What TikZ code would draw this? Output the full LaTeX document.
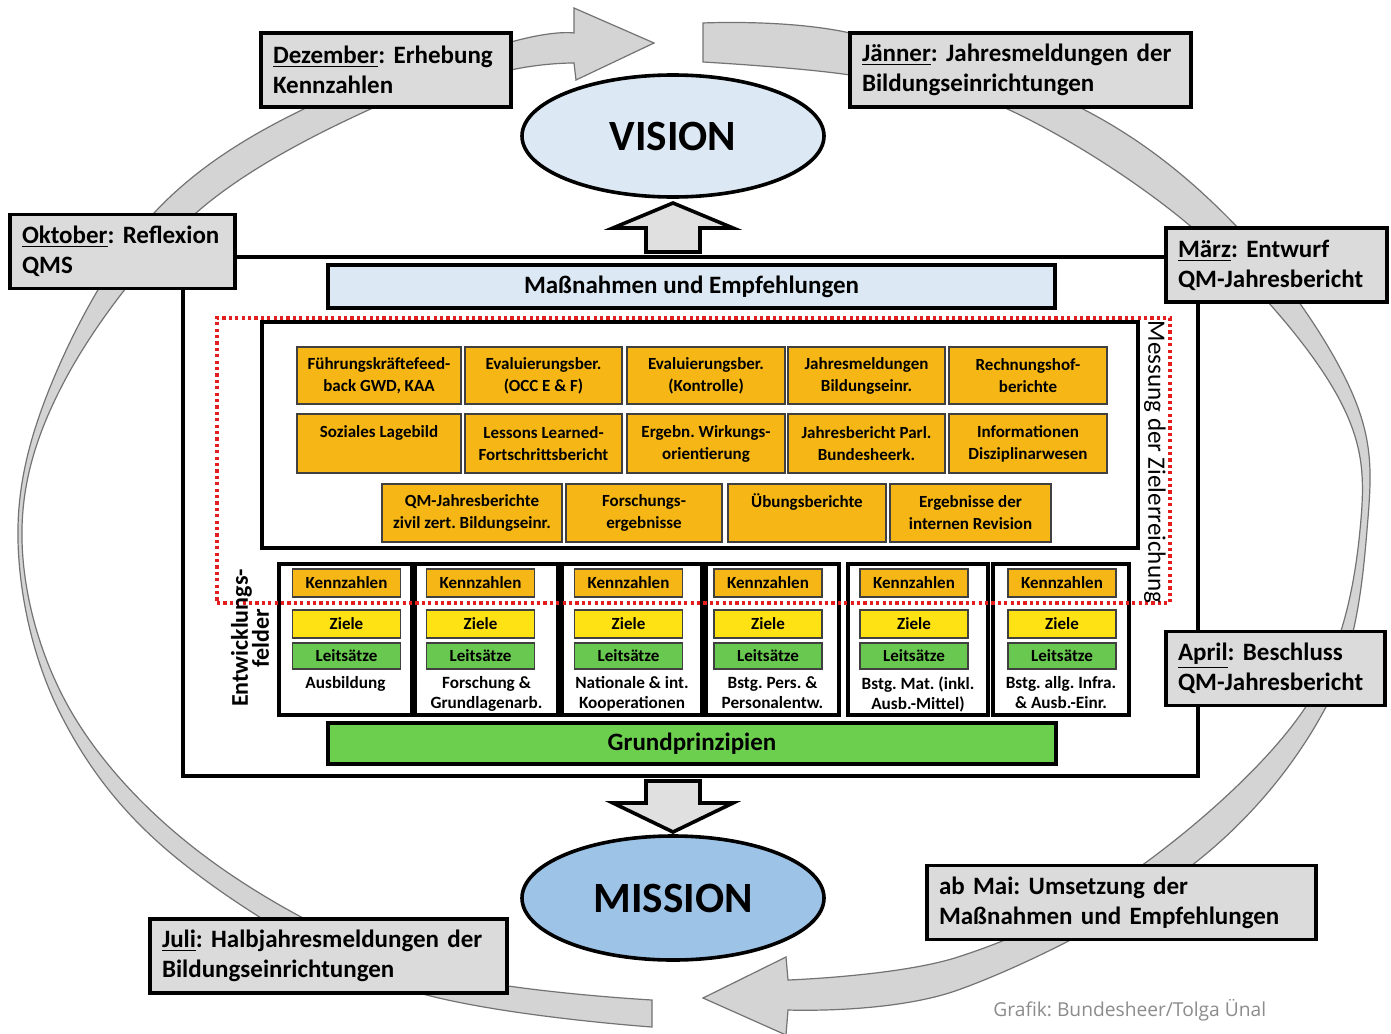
\documentclass[tikz,border=0pt]{standalone}
\usepackage{fontspec}
\setmainfont{Carlito}
\newfontfamily\creditfont{Open Sans}
\usetikzlibrary{shapes.geometric}
\definecolor{ob}{RGB}{245,182,22}
\definecolor{zy}{RGB}{255,226,20}
\definecolor{lg}{RGB}{104,200,80}
\definecolor{gg}{RGB}{108,208,78}
\definecolor{lb}{RGB}{220,233,245}
\definecolor{mb}{RGB}{157,195,230}
\definecolor{rd}{RGB}{228,30,30}
\frenchspacing
\begin{document}
\begin{tikzpicture}[x=0.5pt,y=-0.5pt,
  band/.style={fill=black!17, draw=black!55, line width=0.6pt},
  mbox/.style={draw, line width=1.8pt, fill=black!14, inner sep=0pt, minimum height=37pt,
    font=\fontsize{12.5}{15}\selectfont\bfseries, align=left},
  thickbox/.style={draw, line width=1.8pt, inner sep=0pt},
  obox/.style={draw=black!75, line width=0.7pt, fill=ob, inner sep=0pt, align=center,
    font=\fontsize{8.5}{11}\selectfont\bfseries},
  sbox/.style={draw=black!75, line width=0.7pt, inner sep=0pt, minimum width=54pt,
    font=\fontsize{8.5}{10}\selectfont\bfseries},
  collab/.style={inner sep=0pt, align=center, font=\fontsize{8.6}{10}\selectfont\bfseries},
  ell/.style={ellipse, draw, line width=1.8pt, inner sep=0pt, minimum width=151pt,
    font=\fontsize{21.6}{24}\selectfont\bfseries},
  barrow/.style={draw, line width=1.8pt, fill=black!12, line join=miter},
  reddot/.style={draw=rd, line width=1.6pt, dash pattern=on 1.6pt off 1.6pt}
]
\useasboundingbox (0,0) rectangle (1391,1033);
\fill[white] (0,0) rectangle (1391,1033);

% ring bands
\draw[band] plot[smooth, tension=0.6] coordinates {(652,1027) (400,987) (179,860) (60,713) (18,540) (53,380) (154,213) (308,107) (511,42) (574,33)}
  -- (574,8) -- (654,43) -- (576,80) -- (574,63)
  -- plot[smooth, tension=0.6] coordinates {(574,63) (511,70) (375,107) (196,213) (65,380) (22,540) (72,713) (210,860) (420,968) (652,1000)} -- cycle;
\draw[band] plot[smooth, tension=0.6] coordinates {(703,23) (850,33) (1079,107) (1240,230) (1353,395) (1367,530) (1327,705) (1191,866) (958,990) (788,1010)}
  -- (786,1035) -- (703,998) -- (786,957) -- (788,980)
  -- plot[smooth, tension=0.6] coordinates {(788,980) (958,957) (1141,866) (1307,705) (1360,530) (1337,395) (1195,230) (1003,107) (850,75) (703,62)} -- cycle;

% outer frame
\node[thickbox, minimum width=507.5pt, minimum height=259.5pt] (frame) at (690.5,516.5) {};

% vision / mission
\node[ell, fill=lb, minimum height=61pt] (vision) at (673,136) {VISION};
\node[ell, fill=mb, minimum height=62pt] (mission) at (673,898) {MISSION};

% block arrows
\draw[barrow] (646,252) -- (646,228) -- (613,228) -- (673,203) -- (733,228) -- (700,228) -- (700,252) -- cycle;
\draw[barrow] (646,781) -- (700,781) -- (700,803) -- (733,803) -- (673,832) -- (613,803) -- (646,803) -- cycle;

% month boxes
\node[mbox, minimum width=125pt, text width=113pt] (dez) at (386,70)
  {\mbox{\underline{Dezember}: Erhebung}\\\mbox{Kennzahlen}};
\node[mbox, minimum width=170.5pt, text width=158.5pt] (jan) at (1020.5,70)
  {\mbox{\underline{Jänner}: Jahresmeldungen der}\\\mbox{Bildungseinrichtungen}};
\node[mbox, minimum width=112.5pt, text width=100.5pt] (okt) at (122.5,251.5)
  {\mbox{\underline{Oktober}: Reflexion}\\\mbox{QMS}};
\node[mbox, minimum width=110.5pt, text width=98.5pt] (mar) at (1276.5,265)
  {\mbox{\underline{März}: Entwurf}\\\mbox{QM-Jahresbericht}};
\node[mbox, minimum width=109.5pt, text width=97.5pt] (apr) at (1275.5,668.5)
  {\mbox{\underline{April}: Beschluss}\\\mbox{QM-Jahresbericht}};
\node[mbox, minimum width=194.5pt, text width=182.5pt] (mai) at (1121.5,902.5)
  {\mbox{ab Mai: Umsetzung der}\\\mbox{Maßnahmen und Empfehlungen}};
\node[mbox, minimum width=178.5pt, text width=166.5pt] (jul) at (328.5,956)
  {\mbox{\underline{Juli}: Halbjahresmeldungen der}\\\mbox{Bildungseinrichtungen}};

% Massnahmen
\node[thickbox, fill=lb, minimum width=363.5pt, minimum height=21.5pt,
  font=\fontsize{12.5}{15}\selectfont\bfseries] (mass) at (691.5,286.5) {Maßnahmen und Empfehlungen};

% measurement block
\node[thickbox, fill=white, minimum width=438pt, minimum height=113pt] (meas) at (700,435) {};
\foreach \n/\cx/\w/\t in {
  11/379/82/{Führungskräftefeed-\\back GWD, KAA},
  12/543.5/78.5/{Evaluierungsber.\\(OCC E \& F)},
  13/706/79/{Evaluierungsber.\\(Kontrolle)},
  14/866.5/78.5/{Jahresmeldungen\\Bildungseinr.},
  15/1028/79/{Rechnungshof-\\berichte}}
  \node[obox, minimum width=\w pt, minimum height=28.5pt] (ob\n) at (\cx,375.5) {\t};
\foreach \n/\cx/\w/\t in {
  21/379/82/{Soziales Lagebild\\\phantom{g}},
  22/543.5/78.5/{Lessons Learned-\\Fortschrittsbericht},
  23/706/79/{Ergebn. Wirkungs-\\orientierung},
  24/866.5/78.5/{Jahresbericht Parl.\\Bundesheerk.},
  25/1028/79/{Informationen\\Disziplinarwesen}}
  \node[obox, minimum width=\w pt, minimum height=29.5pt] (ob\n) at (\cx,443.5) {\t};
\foreach \n/\cx/\w/\t in {
  31/472/90/{QM-Jahresberichte\\zivil zert. Bildungseinr.},
  32/644/78/{Forschungs-\\ergebnisse},
  33/807/79/{Übungsberichte\\\phantom{g}},
  34/970.5/80.5/{Ergebnisse der\\internen Revision}}
  \node[obox, minimum width=\w pt, minimum height=29pt] (ob\n) at (\cx,513) {\t};

% development fields
\foreach \n/\cc/\w/\ic/\lab in {
  1/345.5/66.5/346.5/{Ausbildung\\\phantom{g}},
  2/486.5/71.5/480.5/{Forschung \&\\Grundlagenarb.},
  3/632/70/628.5/{Nationale \& int.\\Kooperationen},
  4/772.5/66.5/768/{Bstg. Pers. \&\\Personalentw.},
  5/918/70/914/{Bstg. Mat. (inkl.\\Ausb.-Mittel)},
  6/1061/68/1062/{Bstg. allg. Infra.\\\& Ausb.-Einr.}}
{
  \node[thickbox, fill=white, minimum width=\w pt, minimum height=75.5pt] (col\n) at (\cc,639.5) {};
  \node[sbox, fill=ob, minimum height=14pt] (kz\n) at (\ic,583) {Kennzahlen};
  \node[sbox, fill=zy, minimum height=14pt] (zi\n) at (\ic,624) {Ziele};
  \node[sbox, fill=lg, minimum height=13pt] (le\n) at (\ic,656) {Leitsätze};
  \node[collab, anchor=north] (lab\n) at (\cc,676) {\lab};
}

% Grundprinzipien
\node[thickbox, fill=gg, minimum width=364pt, minimum height=20.5pt,
  font=\fontsize{12.5}{15}\selectfont\bfseries] (grund) at (692,743.5) {Grundprinzipien};

% red dotted
\node[reddot, minimum width=476.5pt, minimum height=142.5pt] (redbox) at (693.5,460.5) {};

% side labels
\node[rotate=-90, inner sep=0pt, font=\fontsize{12.5}{15}\selectfont] (messung) at (1155,462) {Messung der Zielerreichung};
\node[rotate=90, inner sep=0pt, align=center, font=\fontsize{12}{10.5}\selectfont\bfseries] (entw) at (250,638) {Entwicklungs-\\felder};

% credit
\node[inner sep=0pt, anchor=west, text=black!45, font=\creditfont\fontsize{9.6}{11}\selectfont] (credit) at (993,1010) {Grafik: Bundesheer/Tolga Ünal};
\end{tikzpicture}
\end{document}
